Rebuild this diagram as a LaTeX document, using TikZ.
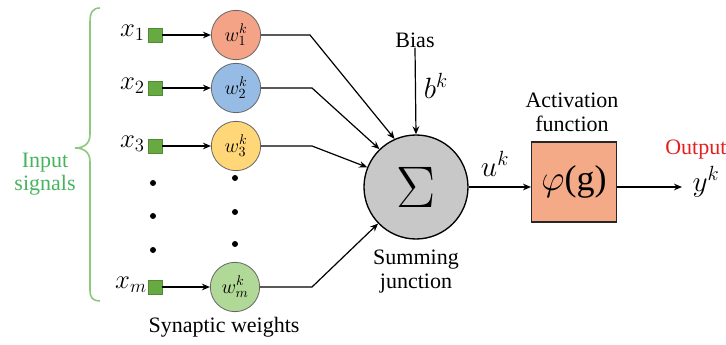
\documentclass[tikz,border=0pt]{standalone}
\usepackage{fix-cm}
\usepackage{fontspec}
\setmainfont{Liberation Serif}
\usetikzlibrary{arrows.meta}
\definecolor{sqgreen}{RGB}{104,170,66}
\definecolor{bracegreen}{RGB}{140,200,125}
\definecolor{txtgreen}{RGB}{70,180,95}
\definecolor{wone}{RGB}{244,163,135}
\definecolor{wtwo}{RGB}{150,188,230}
\definecolor{wthree}{RGB}{255,214,120}
\definecolor{wm}{RGB}{176,216,150}
\definecolor{sumgray}{RGB}{200,200,200}
\definecolor{actfill}{RGB}{244,170,135}
\definecolor{outred}{RGB}{230,30,30}
\tikzset{
  lbl/.style={font=\fontsize{16.5}{19}\selectfont, align=center, inner sep=0pt},
  xlbl/.style={font=\fontsize{20}{22}\selectfont, inner sep=0pt},
  biglbl/.style={font=\fontsize{22}{24}\selectfont, inner sep=0pt},
  insq/.style={draw=sqgreen!80!black, fill=sqgreen, minimum size=10.5pt, inner sep=0pt, line width=0.4pt},
  wcirc/.style={circle, draw=black!60, line width=0.6pt, minimum size=37pt, inner sep=0pt, font=\fontsize{15}{15}\selectfont},
  conn/.style={line width=0.9pt, -{Stealth[length=6pt,width=5pt]}},
  dotn/.style={circle, fill=black, minimum size=4.5pt, inner sep=0pt},
}
\begin{document}
\begin{tikzpicture}[x=0.75pt,y=-0.75pt]
\useasboundingbox (0,0) rectangle (726,345);
% brace
\draw[bracegreen, line width=1.2pt] (100,8) .. controls (93,8) and (90,12) .. (90,22) -- (90,134) .. controls (90,143) and (85,148) .. (75,148) .. controls (85,148) and (90,153) .. (90,162) -- (90,290) .. controls (90,298) and (93,301) .. (100,301);
\node[lbl, text=txtgreen] (insig) at (45,174) {Input\\[-2pt]signals};
% inputs
\node[insq] (x1s) at (155,35) {};
\node[insq] (x2s) at (155,88) {};
\node[insq] (x3s) at (155,146) {};
\node[insq] (xms) at (155,287) {};
\node[xlbl, anchor=east] (x1l) at (145,33) {$x_1$};
\node[xlbl, anchor=east] (x2l) at (145,86) {$x_2$};
\node[xlbl, anchor=east] (x3l) at (145,144) {$x_3$};
\node[xlbl, anchor=east] (xml) at (147,285) {$x_m$};
% weights
\node[wcirc, fill=wone] (w1) at (236,35) {$w_1^k$};
\node[wcirc, fill=wtwo] (w2) at (236,88) {$w_2^k$};
\node[wcirc, fill=wthree] (w3) at (236,146) {$w_3^k$};
\node[wcirc, fill=wm] (wm) at (235,287) {$w_m^k$};
% dots
\node[dotn] (d1) at (153,183) {};
\node[dotn] (d2) at (153,216) {};
\node[dotn] (d3) at (153,250) {};
\node[dotn] (e1) at (235,178) {};
\node[dotn] (e2) at (235,212) {};
\node[dotn] (e3) at (235,244) {};
\node[lbl] (synw) at (224,327) {Synaptic weights};
% summing junction
\node[circle, draw=black, line width=1pt, fill=sumgray, minimum size=78pt, inner sep=0pt, font=\fontsize{44}{44}\selectfont] (sum) at (416,187) {$\Sigma$};
\node[lbl] (sumlbl) at (416,272) {Summing\\[-1pt]junction};
% connectors from weights
\coordinate (b1) at (310,35);
\coordinate (b2) at (312,88);
\coordinate (b3) at (312,146);
\coordinate (bm) at (312,287);
\draw[conn] (x1s) -- (w1);
\draw[conn] (x2s) -- (w2);
\draw[conn] (x3s) -- (w3);
\draw[conn] (xms) -- (wm);
\draw[conn] (w1.east) -- (b1) -- (sum.114);
\draw[conn] (w2.east) -- (b2) -- (sum.134);
\draw[conn] (w3.east) -- (b3) -- (sum.158);
\draw[conn] (wm.east) -- (bm) -- (sum.224);
% bias
\node[lbl] (bias) at (415,40) {Bias};
\draw[conn] (bias.south) -- (sum.north);
\node[biglbl] (bk) at (436,86) {$b^k$};
% activation
\node[draw=black!85, line width=1pt, fill=actfill, minimum width=63.5pt, minimum height=60pt, inner sep=0pt, font=\fontsize{27}{27}\selectfont] (act) at (574,182) {$\varphi$(g)};
\node[lbl] (actl) at (572,112) {Activation\\[-1pt]function};
\node[biglbl] (uk) at (495,164) {$u^k$};
\draw[conn] (sum.east) -- (act.west |- sum.east);
% output
\node[lbl, text=outred, anchor=west] (outl) at (665,150) {Output};
\coordinate (oend) at (682,187);
\draw[conn] (act.east |- oend) -- (oend);
\node[biglbl] (yk) at (706,182) {$y^k$};
\end{tikzpicture}
\end{document}
